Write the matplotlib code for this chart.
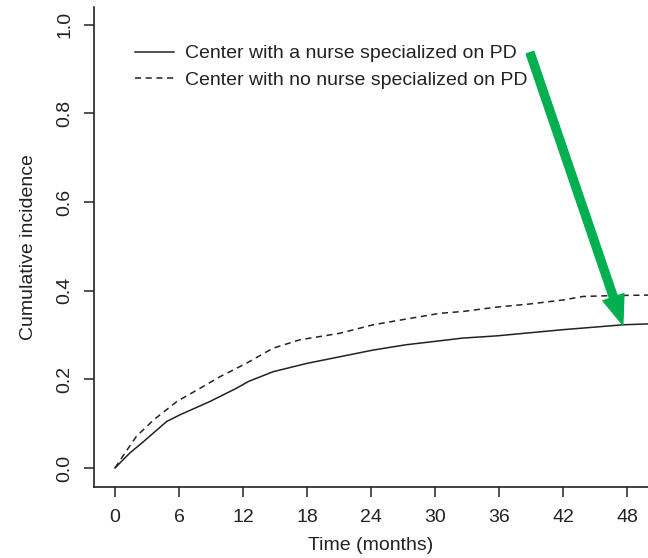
import matplotlib.pyplot as plt

plt.rcParams['font.family'] = ['Liberation Sans', 'DejaVu Sans']

# months, cumulative incidence
t_nurse = [0, 1.4, 2.65, 4.85, 6.1, 8.9, 11.4, 12.5, 14.8, 18, 21.1, 24.2,
           27.3, 30.5, 32.6, 35.8, 38.9, 42, 45.1, 47.6, 50]
ci_nurse = [0, 0.034, 0.059, 0.105, 0.12, 0.15, 0.18, 0.195, 0.217, 0.236, 0.251,
            0.266, 0.278, 0.287, 0.293, 0.298, 0.305, 0.312, 0.318, 0.323, 0.325]

t_no_nurse = [0, 0.8, 2.0, 3.6, 5.8, 7.7, 9.85, 12.3, 14.8, 17.3, 21.1, 24.2,
              27.3, 30.5, 32.6, 35.8, 38.9, 42, 43.9, 47, 50]
ci_no_nurse = [0, 0.029, 0.071, 0.108, 0.15, 0.176, 0.206, 0.236, 0.27, 0.289, 0.304,
               0.323, 0.336, 0.349, 0.353, 0.363, 0.37, 0.379, 0.387, 0.389, 0.39]

labels = ["Center with a nurse specialized on PD",
          "Center with no nurse specialized on PD"]
xticks = [0, 6, 12, 18, 24, 30, 36, 42, 48]
yticks = [0.0, 0.2, 0.4, 0.6, 0.8, 1.0]

ink = '#222222'
fs = 14
fig = plt.figure(figsize=(6.48, 5.58), dpi=100)
ax = fig.add_axes([94 / 648, 71 / 558, 554 / 648, 480 / 558])

ax.plot(t_nurse, ci_nurse, color=ink, lw=1.1, label=labels[0])
ax.plot(t_no_nurse, ci_no_nurse, color=ink, lw=1.1, dashes=(4, 3), label=labels[1])

ax.set_xlim(-1.97, 49.96)
ax.set_ylim(-0.043, 1.04)
ax.spines['top'].set_visible(False)
ax.spines['right'].set_visible(False)
for s in ['left', 'bottom']:
    ax.spines[s].set_linewidth(1.2)
    ax.spines[s].set_color(ink)

ax.set_xticks(xticks)
ax.set_xticklabels([str(v) for v in xticks])
ax.set_yticks(yticks)
ax.set_yticklabels(['%.1f' % v for v in yticks], rotation=90, va='center')
ax.tick_params(axis='both', length=7, width=1.1, color=ink, labelcolor=ink,
               labelsize=fs)
ax.tick_params(axis='x', pad=9)
ax.tick_params(axis='y', pad=8)

ax.set_xlabel("Time (months)", fontsize=fs, color=ink, labelpad=8)
ax.set_ylabel("Cumulative incidence", fontsize=fs, color=ink, labelpad=14)

ax.legend(loc='upper left', bbox_to_anchor=(125 / 648, 1 - 35 / 558),
          bbox_transform=fig.transFigure, frameon=False, fontsize=fs,
          handlelength=2.0, handletextpad=0.6, labelspacing=0.45, borderpad=0,
          labelcolor=ink)

ax.annotate('', xy=(47.6, 0.323), xytext=(38.9, 0.937),
            arrowprops=dict(width=5.8, headwidth=16, headlength=21,
                            color='#00B050', shrink=0))

fig.savefig('out.png', dpi=100)
